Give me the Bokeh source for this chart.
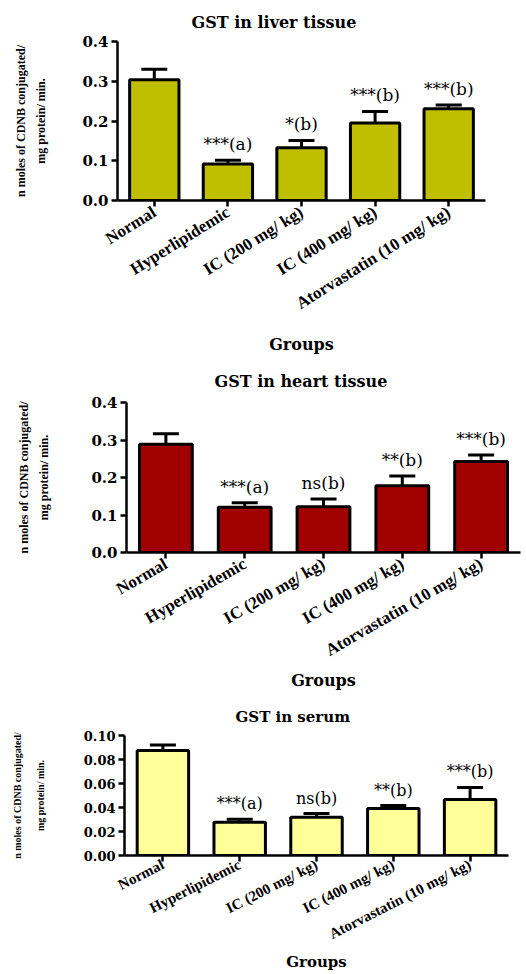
import math
from bokeh.plotting import figure
from bokeh.models import (FactorRange, Range1d, FixedTicker, PrintfTickFormatter,
                          Whisker, TeeHead, ColumnDataSource, Title)
from bokeh.embed import file_html
from bokeh.resources import INLINE
from bokeh.core.properties import value

# ---------------- data ----------------
groups = ["Normal", "Hyperlipidemic", "IC (200 mg/ kg)", "IC (400 mg/ kg)",
          "Atorvastatin (10 mg/ kg)"]

liver_mean = [0.304, 0.092, 0.133, 0.195, 0.231]
liver_err = [0.026, 0.009, 0.018, 0.029, 0.009]
liver_sig = ["", "***(a)", "*(b)", "***(b)", "***(b)"]

heart_mean = [0.289, 0.121, 0.122, 0.178, 0.243]
heart_err = [0.028, 0.012, 0.021, 0.026, 0.017]
heart_sig = ["", "***(a)", "ns(b)", "**(b)", "***(b)"]

serum_mean = [0.0875, 0.0278, 0.0318, 0.0392, 0.0466]
serum_err = [0.0045, 0.0024, 0.0032, 0.0024, 0.0101]
serum_sig = ["", "***(a)", "ns(b)", "**(b)", "***(b)"]

tissue_ticks = [0.0, 0.1, 0.2, 0.3, 0.4]
serum_ticks = [0.00, 0.02, 0.04, 0.06, 0.08, 0.10]

ylabel_1 = "n moles of CDNB conjugated/"
ylabel_2 = "mg protein/ min."
xlabel = "Groups"

W = 526


def make_panel(title, means, errs, sigs, color, ticks, fmt, height, br, bt, bb,
               angle, tick_fs, xtick_fs, title_fs, sig_fs, ylab_fs, ylab_standoff,
               title1_standoff, filler_standoff, xlab_standoff, title_offset,
               title_standoff, xtick_standoff=4):
    tops = [m + e for m, e in zip(means, errs)]
    src = ColumnDataSource(dict(g=groups, m=means, top=tops, sig=sigs))
    p = figure(width=W, height=height, x_range=FactorRange(factors=groups, range_padding=0),
               y_range=Range1d(ticks[0], ticks[-1]), output_backend="svg",
               toolbar_location=None, min_border_left=0, min_border_right=br,
               min_border_top=bt, min_border_bottom=bb)
    p.outline_line_color = None
    p.xgrid.visible = False
    p.ygrid.visible = False
    p.background_fill_color = "white"

    p.title.text = title
    p.title.align = "left"
    p.title.offset = title_offset
    p.title.standoff = title_standoff
    p.title.text_font = "DejaVu Serif"
    p.title.text_font_style = "bold"
    p.title.text_font_size = title_fs
    p.title.text_color = "black"

    p.vbar(x="g", top="m", bottom=0, width=0.67, source=src, fill_color=color,
           line_color="black", line_width=3)
    w = Whisker(source=src, base="g", upper="top", lower="m", dimension="height",
                line_color="black", line_width=3,
                upper_head=TeeHead(size=26, line_color="black", line_width=3),
                lower_head=None)
    p.add_layout(w)
    p.text(x="g", y="top", text="sig", source=src, text_align="center",
           text_baseline="bottom", y_offset=-6, text_font=value("DejaVu Serif"),
           text_font_size=sig_fs, text_color="black")

    for ax in (p.xaxis[0], p.yaxis[0]):
        ax.axis_line_width = 2.5
        ax.axis_line_color = "black"
        ax.major_tick_line_width = 2.5
        ax.major_tick_line_color = "black"
        ax.major_tick_out = 6
        ax.major_tick_in = 0
        ax.minor_tick_line_color = None
        ax.major_label_text_color = "black"

    p.yaxis.ticker = FixedTicker(ticks=ticks, minor_ticks=[])
    p.yaxis.formatter = PrintfTickFormatter(format=fmt)
    p.yaxis.major_label_text_font = "DejaVu Serif"
    p.yaxis.major_label_text_font_style = "bold"
    p.yaxis.major_label_text_font_size = tick_fs
    p.yaxis.major_label_standoff = 3
    p.yaxis.axis_label = ylabel_2
    p.yaxis.axis_label_text_font = "Liberation Serif"
    p.yaxis.axis_label_text_font_style = "bold"
    p.yaxis.axis_label_text_font_size = ylab_fs
    p.yaxis.axis_label_text_color = "black"
    p.yaxis.axis_label_standoff = ylab_standoff

    t1 = Title(text=ylabel_1, align="center", text_font="Liberation Serif",
               text_font_style="bold", text_font_size=ylab_fs, text_color="black",
               standoff=title1_standoff)
    p.add_layout(t1, "left")
    if filler_standoff is not None:
        filler = Title(text=" ", text_font_size="1px", standoff=filler_standoff)
        p.add_layout(filler, "left")

    p.xaxis.major_label_orientation = angle
    p.xaxis.major_label_text_font = "Liberation Serif"
    p.xaxis.major_label_text_font_style = "bold"
    p.xaxis.major_label_text_font_size = xtick_fs
    p.xaxis.major_label_standoff = xtick_standoff

    p.xaxis.axis_label = xlabel
    p.xaxis.axis_label_text_font = "DejaVu Serif"
    p.xaxis.axis_label_text_font_style = "bold"
    p.xaxis.axis_label_text_font_size = title_fs
    p.xaxis.axis_label_text_color = "black"
    p.xaxis.axis_label_standoff = xlab_standoff
    return p


p1 = make_panel("GST in liver tissue", liver_mean, liver_err, liver_sig, "#BFBF00",
                tissue_ticks, "%.1f", 356, 41, 39, 154, math.radians(32),
                "15px", "17px", "16px", "17px", "12px", 31, 7, 5, 11, 74, 20)
p2 = make_panel("GST in heart tissue", heart_mean, heart_err, heart_sig, "#A00000",
                tissue_ticks, "%.1f", 340, 6, 46, 144, math.radians(30),
                "15px", "17px", "16px", "17px", "12px", 37, 8, 7, 0, 88, 24)
p3 = make_panel("GST in serum", serum_mean, serum_err, serum_sig, "#FFFF99",
                serum_ticks, "%.2f", 278, 18, 36, 117, math.radians(27),
                "13px", "15px", "15px", "16px", "10px", 35, 18, None, 1, 111, 19,
                xtick_standoff=2)

open("out.html", "w").write(file_html([p1, p2, p3], INLINE))
